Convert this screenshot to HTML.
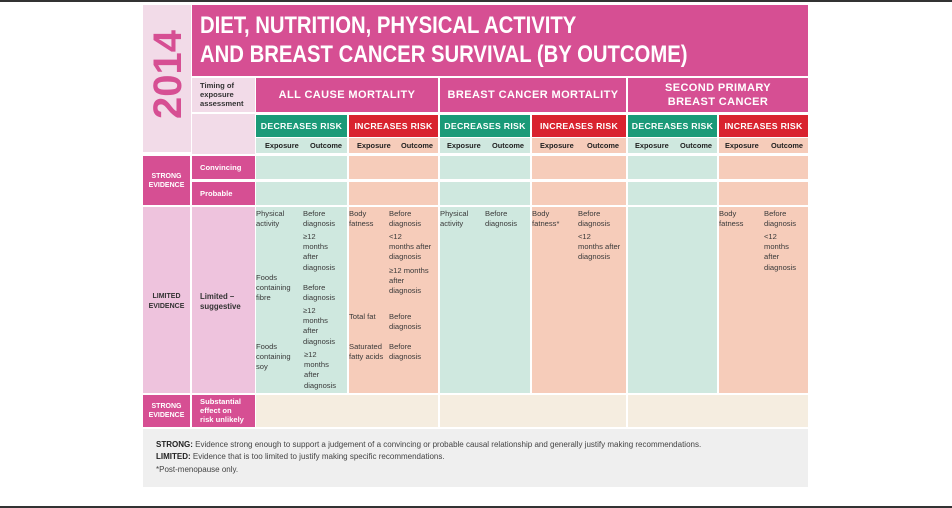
<!DOCTYPE html>
<html><head><meta charset="utf-8"><style>
body{margin:0;width:952px;height:508px;background:#fff;position:relative;overflow:hidden;font-family:"Liberation Sans",sans-serif;}
div{position:absolute;box-sizing:border-box;}
.t{font-size:7.6px;line-height:10.2px;color:#3a3a3a;}
.b{font-weight:bold;}
.w{color:#fff;font-weight:bold;}
.pk{background:#d64f93;}
.pp{background:#f2dbe8;}
.g{background:#cfe8df;}
.s{background:#f6ccba;}
.gh{background:#1a9a78;color:#fff;font-weight:bold;font-size:8.7px;text-align:center;line-height:22px;letter-spacing:.3px;}
.rh{background:#d9232f;color:#fff;font-weight:bold;font-size:8.7px;text-align:center;line-height:22px;letter-spacing:.3px;}
.eo{font-size:7.4px;font-weight:bold;color:#222;line-height:15px;}
.ch{color:#fff;font-weight:bold;font-size:11px;text-align:center;letter-spacing:.4px;}
</style></head><body>
<div style="left:0;top:0;width:952px;height:2px;background:#333"></div>
<div style="left:0;top:506px;width:952px;height:2px;background:#333"></div>

<div class="pp" style="left:143px;top:5px;width:48px;height:147px"></div>
<div style="left:131px;top:60px;width:74px;height:44px;transform:rotate(-90deg);color:#d64f93;font-weight:bold;font-size:40px;line-height:44px;text-align:center">2014</div>
<div class="pk" style="left:192px;top:5px;width:616px;height:71px"></div>
<div class="w" style="left:200px;top:11px;width:700px;font-size:24px;line-height:29px;transform:scaleX(0.845);transform-origin:left top;white-space:nowrap">DIET, NUTRITION, PHYSICAL ACTIVITY<br>AND BREAST CANCER SURVIVAL (BY OUTCOME)</div>

<div class="pp t b" style="left:192px;top:78px;width:63px;height:34px;padding:3px 0 0 8px;color:#333;line-height:9px">Timing of<br>exposure<br>assessment</div>
<div class="pp" style="left:192px;top:114px;width:63px;height:40px"></div>

<div class="pk ch" style="left:256px;top:78px;width:182px;height:34px;line-height:34px">ALL CAUSE MORTALITY</div>
<div class="pk ch" style="left:440px;top:78px;width:186px;height:34px;line-height:34px">BREAST CANCER MORTALITY</div>
<div class="pk ch" style="left:628px;top:78px;width:180px;height:34px;line-height:14px;padding-top:3px">SECOND PRIMARY<br>BREAST CANCER</div>

<div class="gh" style="left:256px;top:115px;width:91px;height:22px">DECREASES RISK</div>
<div class="rh" style="left:349px;top:115px;width:89px;height:22px">INCREASES RISK</div>
<div class="gh" style="left:440px;top:115px;width:90px;height:22px">DECREASES RISK</div>
<div class="rh" style="left:532px;top:115px;width:94px;height:22px">INCREASES RISK</div>
<div class="gh" style="left:628px;top:115px;width:89px;height:22px">DECREASES RISK</div>
<div class="rh" style="left:719px;top:115px;width:89px;height:22px">INCREASES RISK</div>

<div class="g eo" style="left:256px;top:138px;width:91px;height:15px"><span style="position:absolute;left:9px">Exposure</span><span style="position:absolute;left:54px">Outcome</span></div>
<div class="s eo" style="left:349px;top:138px;width:89px;height:15px"><span style="position:absolute;left:8px">Exposure</span><span style="position:absolute;left:52px">Outcome</span></div>
<div class="g eo" style="left:440px;top:138px;width:90px;height:15px"><span style="position:absolute;left:7px">Exposure</span><span style="position:absolute;left:52px">Outcome</span></div>
<div class="s eo" style="left:532px;top:138px;width:94px;height:15px"><span style="position:absolute;left:8px">Exposure</span><span style="position:absolute;left:55px">Outcome</span></div>
<div class="g eo" style="left:628px;top:138px;width:89px;height:15px"><span style="position:absolute;left:7px">Exposure</span><span style="position:absolute;left:52px">Outcome</span></div>
<div class="s eo" style="left:719px;top:138px;width:89px;height:15px"><span style="position:absolute;left:6px">Exposure</span><span style="position:absolute;left:52px">Outcome</span></div>

<div class="pk w" style="left:143px;top:156px;width:47px;height:49px;font-size:7px;text-align:center;padding-top:16px;line-height:9px">STRONG<br>EVIDENCE</div>
<div class="pk w" style="left:192px;top:156px;width:63px;height:23px;font-size:7.6px;line-height:23px;padding-left:8px">Convincing</div>
<div class="pk w" style="left:192px;top:182px;width:63px;height:23px;font-size:7.6px;line-height:23px;padding-left:8px">Probable</div>

<div class="g" style="left:256px;top:156px;width:91px;height:23px"></div>
<div class="s" style="left:349px;top:156px;width:89px;height:23px"></div>
<div class="g" style="left:440px;top:156px;width:90px;height:23px"></div>
<div class="s" style="left:532px;top:156px;width:94px;height:23px"></div>
<div class="g" style="left:628px;top:156px;width:89px;height:23px"></div>
<div class="s" style="left:719px;top:156px;width:89px;height:23px"></div>
<div class="g" style="left:256px;top:182px;width:91px;height:23px"></div>
<div class="s" style="left:349px;top:182px;width:89px;height:23px"></div>
<div class="g" style="left:440px;top:182px;width:90px;height:23px"></div>
<div class="s" style="left:532px;top:182px;width:94px;height:23px"></div>
<div class="g" style="left:628px;top:182px;width:89px;height:23px"></div>
<div class="s" style="left:719px;top:182px;width:89px;height:23px"></div>

<div class="b" style="left:143px;top:207px;width:47px;height:186px;background:#eec3dd;color:#333;font-size:7px;text-align:center;padding-top:85px;line-height:9.5px">LIMITED<br>EVIDENCE</div>
<div class="b" style="left:192px;top:207px;width:63px;height:186px;background:#eec3dd;color:#333;font-size:7.8px;padding:85px 0 0 8px;line-height:9.5px">Limited –<br>suggestive</div>

<div class="g" style="left:256px;top:207px;width:91px;height:186px"></div>
<div class="s" style="left:349px;top:207px;width:89px;height:186px"></div>
<div class="g" style="left:440px;top:207px;width:90px;height:186px"></div>
<div class="s" style="left:532px;top:207px;width:94px;height:186px"></div>
<div class="g" style="left:628px;top:207px;width:89px;height:186px"></div>
<div class="s" style="left:719px;top:207px;width:89px;height:186px"></div>

<div class="t" style="left:256px;top:209px">Physical<br>activity</div>
<div class="t" style="left:303px;top:209px">Before<br>diagnosis</div>
<div class="t" style="left:303px;top:232px">≥12<br>months<br>after<br>diagnosis</div>
<div class="t" style="left:256px;top:273px">Foods<br>containing<br>fibre</div>
<div class="t" style="left:303px;top:283px">Before<br>diagnosis</div>
<div class="t" style="left:303px;top:306px">≥12<br>months<br>after<br>diagnosis</div>
<div class="t" style="left:256px;top:342px">Foods<br>containing<br>soy</div>
<div class="t" style="left:304px;top:350px">≥12<br>months<br>after<br>diagnosis</div>

<div class="t" style="left:349px;top:209px">Body<br>fatness</div>
<div class="t" style="left:389px;top:209px">Before<br>diagnosis</div>
<div class="t" style="left:389px;top:232px">&lt;12<br>months after<br>diagnosis</div>
<div class="t" style="left:389px;top:266px">≥12 months<br>after<br>diagnosis</div>
<div class="t" style="left:349px;top:312px">Total fat</div>
<div class="t" style="left:389px;top:312px">Before<br>diagnosis</div>
<div class="t" style="left:349px;top:342px">Saturated<br>fatty acids</div>
<div class="t" style="left:389px;top:342px">Before<br>diagnosis</div>

<div class="t" style="left:440px;top:209px">Physical<br>activity</div>
<div class="t" style="left:485px;top:209px">Before<br>diagnosis</div>
<div class="t" style="left:532px;top:209px">Body<br>fatness*</div>
<div class="t" style="left:578px;top:209px">Before<br>diagnosis</div>
<div class="t" style="left:578px;top:232px">&lt;12<br>months after<br>diagnosis</div>

<div class="t" style="left:719px;top:209px">Body<br>fatness</div>
<div class="t" style="left:764px;top:209px">Before<br>diagnosis</div>
<div class="t" style="left:764px;top:232px">&lt;12<br>months<br>after<br>diagnosis</div>

<div class="pk w" style="left:143px;top:395px;width:47px;height:32px;font-size:7px;text-align:center;padding-top:7px;line-height:9px">STRONG<br>EVIDENCE</div>
<div class="pk w" style="left:192px;top:395px;width:63px;height:32px;font-size:7.6px;line-height:9px;padding:2px 0 0 8px">Substantial<br>effect on<br>risk unlikely</div>
<div style="left:256px;top:395px;width:182px;height:32px;background:#f5ede0"></div>
<div style="left:440px;top:395px;width:186px;height:32px;background:#f5ede0"></div>
<div style="left:628px;top:395px;width:180px;height:32px;background:#f5ede0"></div>

<div style="left:143px;top:429px;width:665px;height:58px;background:#efefef;padding:10px 0 0 13px;font-size:8px;line-height:12.4px;color:#444">
<b style="color:#222">STRONG:</b> Evidence strong enough to support a judgement of a convincing or probable causal relationship and generally justify making recommendations.<br>
<b style="color:#222">LIMITED:</b> Evidence that is too limited to justify making specific recommendations.<br>
*Post-menopause only.</div>
</body></html>
